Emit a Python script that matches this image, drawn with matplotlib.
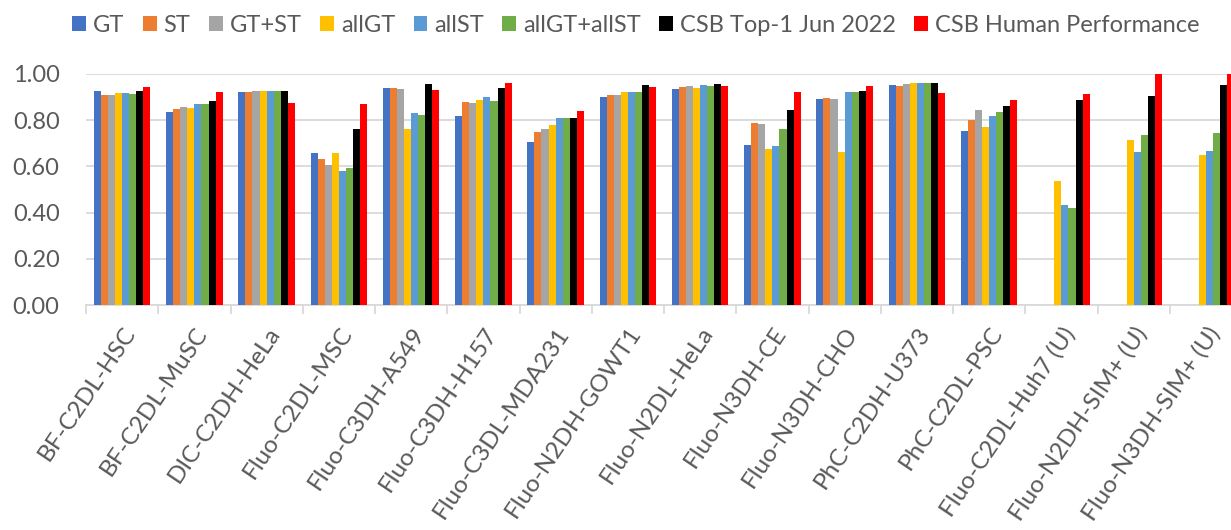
import numpy as np
import matplotlib
matplotlib.use("Agg")
import matplotlib.pyplot as plt
from matplotlib.patches import Patch

categories = ["BF-C2DL-HSC", "BF-C2DL-MuSC", "DIC-C2DH-HeLa", "Fluo-C2DL-MSC",
              "Fluo-C3DH-A549", "Fluo-C3DH-H157", "Fluo-C3DL-MDA231", "Fluo-N2DH-GOWT1",
              "Fluo-N2DL-HeLa", "Fluo-N3DH-CE", "Fluo-N3DH-CHO", "PhC-C2DH-U373",
              "PhC-C2DL-PSC", "Fluo-C2DL-Huh7 (U)", "Fluo-N2DH-SIM+ (U)", "Fluo-N3DH-SIM+ (U)"]

nan = np.nan
gt       = [0.928, 0.834, 0.924, 0.659, 0.941, 0.820, 0.707, 0.899, 0.935, 0.692, 0.890, 0.954, 0.755, nan, nan, nan]
st       = [0.908, 0.850, 0.924, 0.634, 0.941, 0.878, 0.749, 0.911, 0.944, 0.788, 0.896, 0.947, 0.803, nan, nan, nan]
gt_st    = [0.908, 0.859, 0.925, 0.607, 0.934, 0.873, 0.764, 0.911, 0.947, 0.782, 0.892, 0.958, 0.844, nan, nan, nan]
all_gt   = [0.919, 0.854, 0.925, 0.657, 0.762, 0.888, 0.780, 0.924, 0.938, 0.676, 0.663, 0.960, 0.771, 0.537, 0.716, 0.648]
all_st   = [0.918, 0.870, 0.928, 0.581, 0.831, 0.899, 0.810, 0.922, 0.951, 0.689, 0.922, 0.961, 0.818, 0.432, 0.663, 0.666]
all_both = [0.915, 0.870, 0.927, 0.592, 0.821, 0.885, 0.810, 0.924, 0.948, 0.761, 0.924, 0.961, 0.834, 0.422, 0.736, 0.746]
csb_top1 = [0.928, 0.883, 0.928, 0.762, 0.955, 0.938, 0.810, 0.954, 0.958, 0.843, 0.928, 0.961, 0.860, 0.888, 0.906, 0.951]
csb_human = [0.945, 0.921, 0.876, 0.872, 0.931, 0.961, 0.841, 0.942, 0.947, 0.922, 0.947, 0.916, 0.888, 0.914, 1.000, 1.000]

series_names = ["GT", "ST", "GT+ST", "allGT", "allST", "allGT+allST",
                "CSB Top-1 Jun 2022", "CSB Human Performance"]
series = [gt, st, gt_st, all_gt, all_st, all_both, csb_top1, csb_human]
colors = ["#4472C4", "#ED7D31", "#A5A5A5", "#FFC000", "#5B9BD5", "#70AD47", "#000000", "#FF0000"]

plt.rcParams['font.family'] = ['Lato', 'DejaVu Sans']
text_color = "#595959"
grid_color = "#D9D9D9"

W, H = 1231, 530
fig = plt.figure(figsize=(W / 100, H / 100), dpi=100)
left_px, right_px, top_px, bottom_px = 86, 1242, 74, 305
ax = fig.add_axes([left_px / W, 1 - bottom_px / H, (right_px - left_px) / W, (bottom_px - top_px) / H])

x = np.arange(len(categories))
n = len(series)
bw = 0.098
for i, (vals, c) in enumerate(zip(series, colors)):
    offs = (i - (n - 1) / 2) * bw
    ax.bar(x + offs, vals, width=bw, color=c, linewidth=0, zorder=3)

ax.set_xlim(-0.5, len(categories) - 0.5)
ax.set_ylim(0, 1.0)
ax.set_yticks(np.arange(0, 1.01, 0.2))
ax.set_yticklabels([f"{v:.2f}" for v in np.arange(0, 1.01, 0.2)])
ax.yaxis.grid(True, color=grid_color, linewidth=1.3, zorder=0)
ax.set_axisbelow(True)
for s in ["left", "right", "top"]:
    ax.spines[s].set_visible(False)
ax.spines["bottom"].set_color(grid_color)
ax.spines["bottom"].set_linewidth(1.3)

ax.tick_params(axis="y", length=0, pad=19, labelsize=17, labelcolor=text_color)
ax.set_xticks(x)
ax.set_xticks(np.arange(-0.5, len(categories)), minor=True)
ax.tick_params(axis="x", which="major", length=0, pad=13, labelsize=17.5, labelcolor=text_color)
ax.tick_params(axis="x", which="minor", length=6.5, width=1.3, color=grid_color)
ax.set_xticklabels(categories, rotation=56, ha="right", va="top", rotation_mode="anchor")

handles = [Patch(facecolor=c, edgecolor="none") for c in colors]
leg = fig.legend(handles, series_names, loc="center", bbox_to_anchor=(636 / W, 1 - 25 / H),
                 ncol=8, frameon=False, fontsize=17, handlelength=0.58, handleheight=0.58,
                 handletextpad=0.3, columnspacing=0.78)
for t in leg.get_texts():
    t.set_color(text_color)

fig.savefig("out.png", dpi=100)
